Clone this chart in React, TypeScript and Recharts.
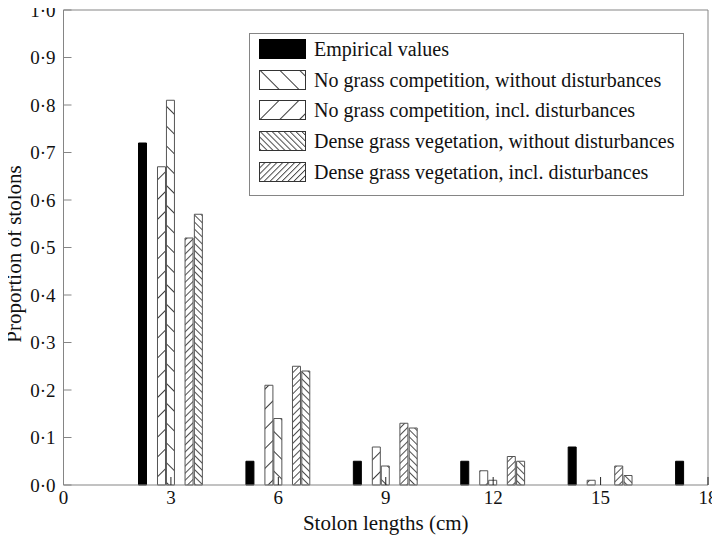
import React from 'react';
import { ComposedChart, Bar, XAxis, YAxis, ReferenceLine, Legend } from 'recharts';

// ---- data ----
const categories = [3, 6, 9, 12, 15, 18];
const empirical = [0.72, 0.05, 0.05, 0.05, 0.08, 0.05];
const noGrassWithout = [0.81, 0.14, 0.04, 0.01, 0, 0];
const noGrassIncl = [0.67, 0.21, 0.08, 0.03, 0.01, 0];
const denseWithout = [0.57, 0.24, 0.12, 0.05, 0.02, 0];
const denseIncl = [0.52, 0.25, 0.13, 0.06, 0.04, 0];
const xTicks = [0, 3, 6, 9, 12, 15, 18];
const yTicks = [0, 0.1, 0.2, 0.3, 0.4, 0.5, 0.6, 0.7, 0.8, 0.9, 1.0];

const series = [
  { key: 'empirical', name: 'Empirical values', values: empirical, shift: -0.78, fill: '#000', legendFill: '#000' },
  { key: 'noGrassWithout', name: 'No grass competition, without disturbances', values: noGrassWithout, shift: 0, fill: 'url(#chWideBack)', legendFill: 'url(#lgWideBack)' },
  { key: 'noGrassIncl', name: 'No grass competition, incl. disturbances', values: noGrassIncl, shift: -0.25, fill: 'url(#chWideFwd)', legendFill: 'url(#lgWideFwd)' },
  { key: 'denseWithout', name: 'Dense grass vegetation, without disturbances', values: denseWithout, shift: 0.78, fill: 'url(#chDenseBack)', legendFill: 'url(#lgDenseBack)' },
  { key: 'denseIncl', name: 'Dense grass vegetation, incl. disturbances', values: denseIncl, shift: 0.52, fill: 'url(#chDenseFwd)', legendFill: 'url(#lgDenseFwd)' },
];

const rows: any[] = [];
series.forEach((s) => {
  categories.forEach((c, i) => {
    if (s.values[i] > 0) rows.push({ x: +(c + s.shift).toFixed(2), [s.key]: s.values[i] });
  });
});
rows.sort((a, b) => a.x - b.x);

const FONT = '"Liberation Serif", "Times New Roman", serif';
const AXIS = '#858585';

const fmtY = (v: number) => v.toFixed(1).replace('.', '·');

const HatchDefs = ({ prefix, wide, dense }: { prefix: string; wide: number; dense: number }) => (
  <defs>
    <pattern id={prefix + 'WideBack'} patternUnits="userSpaceOnUse" width={wide} height={wide} patternTransform="rotate(-45)">
      <rect width={wide} height={wide} fill="#fff" />
      <line x1={0.5} y1={0} x2={0.5} y2={wide} stroke="#222" strokeWidth={0.9} />
    </pattern>
    <pattern id={prefix + 'WideFwd'} patternUnits="userSpaceOnUse" width={wide} height={wide} patternTransform="rotate(45)">
      <rect width={wide} height={wide} fill="#fff" />
      <line x1={0.5} y1={0} x2={0.5} y2={wide} stroke="#222" strokeWidth={0.9} />
    </pattern>
    <pattern id={prefix + 'DenseBack'} patternUnits="userSpaceOnUse" width={dense} height={dense} patternTransform="rotate(-45)">
      <rect width={dense} height={dense} fill="#fff" />
      <line x1={0.5} y1={0} x2={0.5} y2={dense} stroke="#222" strokeWidth={0.8} />
    </pattern>
    <pattern id={prefix + 'DenseFwd'} patternUnits="userSpaceOnUse" width={dense} height={dense} patternTransform="rotate(45)">
      <rect width={dense} height={dense} fill="#fff" />
      <line x1={0.5} y1={0} x2={0.5} y2={dense} stroke="#222" strokeWidth={0.8} />
    </pattern>
  </defs>
);

const LegendBox = () => (
  <div style={{ position: 'relative', width: 435, height: 163, border: `1px solid ${AXIS}`, background: '#fff', boxSizing: 'border-box', fontFamily: FONT }}>
    <svg width={0} height={0} style={{ position: 'absolute' }}>
      <HatchDefs prefix="lg" wide={14} dense={4.2} />
    </svg>
    {series.map((s, i) => (
      <div key={s.key} style={{ position: 'absolute', left: 9, top: 5 + i * 30.7, height: 20, display: 'flex', alignItems: 'center' }}>
        <svg width={47} height={20} style={{ display: 'block', flex: 'none' }}>
          <rect x={0.5} y={0.5} width={46} height={19} fill={s.legendFill} stroke={i === 0 ? '#000' : '#333'} strokeWidth={1} />
        </svg>
        <span style={{ marginLeft: 8, fontSize: 20, color: '#111', whiteSpace: 'nowrap', lineHeight: '20px', fontFamily: FONT }}>{s.name}</span>
      </div>
    ))}
  </div>
);

const YLabel = () => {
  const cx = 14;
  const cy = 254;
  return (
    <text x={cx} y={cy} transform={`rotate(-90, ${cx}, ${cy})`} textAnchor="middle" dominantBaseline="central" fontFamily={FONT} fontSize={21} fill="#111">
      Proportion of stolons
    </text>
  );
};

export default function App() {
  return (
    <div style={{ margin: '-8px 0 0 -8px', width: 720, height: 538, fontFamily: FONT }}>
      <ComposedChart width={720} height={538} data={rows} margin={{ top: 10, right: 12, bottom: 8, left: 0 }}>
        <HatchDefs prefix="ch" wide={14} dense={5} />
        <XAxis
          dataKey="x"
          type="number"
          domain={[0, 18]}
          ticks={xTicks}
          interval={0}
          allowDataOverflow
          stroke={AXIS}
          tickSize={-8}
          tickMargin={14}
          height={45}
          tick={{ fontFamily: FONT, fontSize: 19, fill: '#111' }}
          tickLine={{ stroke: '#222' }}
          label={{ value: 'Stolon lengths (cm)', position: 'insideBottom', offset: 0, fontFamily: FONT, fontSize: 21, fill: '#111' }}
        />
        <YAxis
          type="number"
          domain={[0, 1]}
          ticks={yTicks}
          interval={0}
          width={63.5}
          stroke={AXIS}
          tickSize={-8}
          tickMargin={16}
          tickFormatter={fmtY}
          tick={{ fontFamily: FONT, fontSize: 19, fill: '#111' }}
          label={{ content: YLabel }}
        />
        <ReferenceLine y={1} stroke={AXIS} strokeWidth={1} ifOverflow="visible" />
        <ReferenceLine x={18} stroke={AXIS} strokeWidth={1} ifOverflow="visible" />
        {series.map((s) => (
          <Bar
            key={s.key}
            dataKey={s.key}
            name={s.name}
            stackId="a"
            barSize={8}
            fill={s.fill}
            stroke={s.key === 'empirical' ? '#000' : '#555'}
            strokeWidth={1}
            isAnimationActive={false}
          />
        ))}
        <Legend
          layout="vertical"
          align="center"
          verticalAlign="middle"
          content={() => <LegendBox />}
          wrapperStyle={{ position: 'absolute', left: 249, top: 33, width: 435, height: 163 }}
        />
      </ComposedChart>
    </div>
  );
}
